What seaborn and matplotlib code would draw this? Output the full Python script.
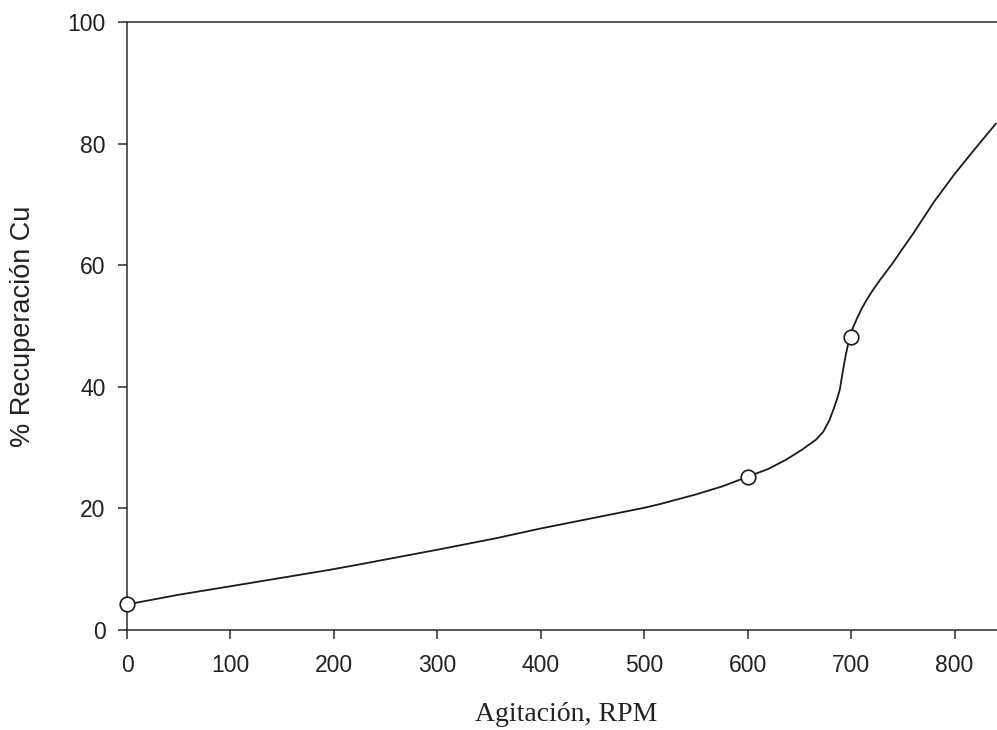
import numpy as np
import pandas as pd
import matplotlib
matplotlib.use("Agg")
import matplotlib.pyplot as plt
import seaborn as sns

# --- data -------------------------------------------------------------------
# fitted curve
curve_rpm = [0, 50, 111, 150, 196, 222, 250, 300, 357, 400, 456, 500, 515,
             550, 575, 600, 620, 637, 652, 666, 673, 679, 683, 686, 689,
             692, 695, 698.5, 702, 705, 710, 715, 721, 728, 740, 748, 760,
             780, 800, 820, 840]
curve_rec = [4.2, 5.8, 7.5, 8.6, 9.9, 10.7, 11.6, 13.2, 15.1, 16.7, 18.6,
             20.1, 20.7, 22.3, 23.6, 25.2, 26.5, 28.0, 29.6, 31.3, 32.6,
             34.5, 36.3, 37.8, 39.5, 42.6, 45.4, 48.1, 49.8, 51.0, 52.8,
             54.3, 55.9, 57.6, 60.3, 62.3, 65.2, 70.4, 75.0, 79.2, 83.3]
# measured points
pts_rpm = [0, 600, 700]
pts_rec = [4.2, 25.2, 48.2]

curve = pd.DataFrame({"rpm": curve_rpm, "rec": curve_rec})
pts = pd.DataFrame({"rpm": pts_rpm, "rec": pts_rec})

sns.set_theme(style="ticks")
plt.rcParams["font.family"] = ["Liberation Sans", "DejaVu Sans"]

W, H = 997, 730
fig = plt.figure(figsize=(W / 100, H / 100), dpi=100)
ax = fig.add_axes([127 / W, (H - 630) / H, 870 / W, 608 / H])

sns.lineplot(data=curve, x="rpm", y="rec", ax=ax, color="#1a1a1a",
             linewidth=1.3, sort=True)
sns.scatterplot(data=pts, x="rpm", y="rec", ax=ax, s=110, color="white",
                edgecolor="#1a1a1a", linewidth=1.2, zorder=5, clip_on=False)

ax.set_xlim(0, 841)
ax.set_ylim(0, 100)
ax.set_xticks(np.arange(0, 801, 100))
ax.set_yticks(np.arange(0, 101, 20))

for side in ["left", "bottom", "top"]:
    ax.spines[side].set_linewidth(1.1)
    ax.spines[side].set_color("#2a2a2a")
ax.spines["right"].set_visible(False)

ax.tick_params(axis="both", direction="out", length=6.5, width=1.1,
               color="#2a2a2a", labelsize=16.5, labelcolor="#222222")
ax.tick_params(axis="y", pad=9)
ax.tick_params(axis="x", pad=11)

ax.set_ylabel("% Recuperación Cu", fontsize=19.5, color="#222222")
ax.yaxis.set_label_coords(-0.1046, 0.5)
ax.set_xlabel("Agitación, RPM", fontsize=20, color="#222222",
              family=["Liberation Serif", "DejaVu Serif"])
ax.xaxis.set_label_coords(0.505, -0.118)

fig.savefig("out.png", dpi=100)
